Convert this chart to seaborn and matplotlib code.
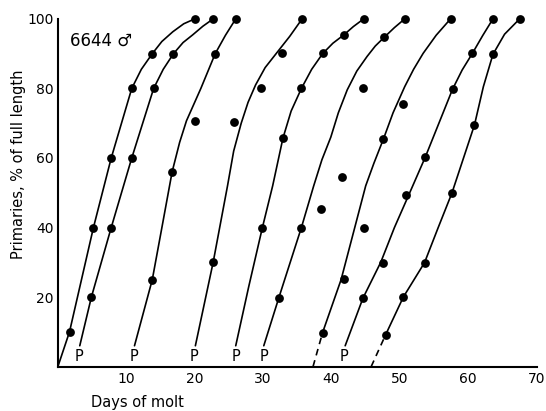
import pandas as pd
import matplotlib
matplotlib.use('Agg')
import matplotlib.pyplot as plt
import seaborn as sns

sns.set_style("white")
plt.rcParams['font.family'] = ['DejaVu Sans']
plt.rcParams['text.color'] = 'black'

dot_day = [1.7, 5.2, 7.8, 10.8, 13.8, 20.0,
           4.9, 7.8, 10.8, 14.0, 16.9, 22.7,
           13.8, 16.7, 20.0, 23.0, 26.0,
           22.7, 25.8, 29.7, 32.7, 35.7,
           29.9, 32.9, 35.6, 38.7, 41.8, 44.7,
           32.3, 35.6, 38.4, 47.7, 50.7,
           38.7, 41.8, 41.6, 44.6, 47.6, 50.5, 57.4,
           44.6, 44.7, 47.5, 50.9, 53.7, 57.7, 60.6, 63.6,
           47.9, 50.5, 53.6, 57.6, 60.9, 63.6, 67.5]
dot_pct = [10, 40, 60, 80, 90, 100,
           20, 40, 60, 80, 90, 100,
           25, 56, 70.7, 90, 100,
           30, 70.3, 80, 90.3, 100,
           40, 65.7, 80, 90.3, 95.4, 100,
           19.8, 40, 45.4, 94.7, 100,
           9.8, 25.1, 54.6, 80, 65.5, 75.5, 100,
           19.7, 39.8, 29.7, 49.4, 60.2, 79.8, 90.1, 100,
           9.1, 20, 29.9, 49.9, 69.5, 89.8, 100]

# hand-drawn growth curves, one list per primary
curve_a_x = [0, 1.7, 5.2, 7.8, 10.8, 12.2, 13.8, 15.2, 16.8, 18.4, 20.0]
curve_a_y = [0, 10, 40, 60, 80, 85.5, 90, 93.5, 96.3, 98.6, 100]
curve_b_x = [3.2, 4.9, 7.8, 10.8, 14.0, 15.4, 16.9, 18.3, 19.7, 21.2, 22.7]
curve_b_y = [6, 20, 40, 60, 80, 85.5, 90, 93.2, 95.4, 97.9, 100]
curve_c_x = [11.2, 13.8, 15.3, 16.7, 17.8, 18.8, 20.9, 23.0, 24.5, 26.0]
curve_c_y = [6, 25, 41, 56, 64.5, 70.7, 80, 90, 95.3, 100]
curve_d_x = [20.1, 22.7, 24.8, 25.7, 26.8, 27.8, 28.9, 30.3, 32.1, 33.9, 35.7]
curve_d_y = [6, 30, 52, 62, 70, 76, 81, 86, 90.5, 95, 100]
curve_e_x = [26.0, 27.9, 29.9, 31.4, 32.9, 34.1, 35.6, 37.1, 38.7, 40.2, 41.8, 43.2, 44.7]
curve_e_y = [6, 23, 40, 52, 65.7, 73.5, 80, 85.5, 90, 93, 95.4, 97.8, 100]
curve_f_x = [30.1, 32.3, 35.6, 37.4, 38.6, 39.9, 41.0, 42.3, 43.7, 45.2, 46.4, 47.7, 49.2, 50.7]
curve_f_y = [6, 19.8, 40, 52, 59.5, 66, 73, 79.6, 85, 89.2, 92.2, 94.7, 97.5, 100]
curve_g_x = [38.7, 41.4, 43.2, 45.0, 46.2, 47.6, 49.0, 50.7, 52.0, 53.4, 55.3, 57.4]
curve_g_y = [9.8, 25, 38.5, 52, 58.5, 65.5, 73, 80.5, 85.5, 90.1, 95.3, 100]
curve_h_x = [42.0, 44.6, 47.2, 49.2, 51.3, 53.7, 55.7, 57.7, 59.1, 60.6, 62.1, 63.6]
curve_h_y = [6, 19.7, 30, 40, 49.4, 60.2, 70, 79.8, 85.3, 90.1, 95.2, 100]
curve_i_x = [47.9, 50.5, 53.6, 55.6, 57.6, 59.3, 60.9, 62.2, 63.6, 65.3, 67.5]
curve_i_y = [9.1, 20, 29.9, 40, 49.9, 60, 69.5, 80.5, 89.8, 95.6, 100]

# extrapolated (dashed) starts
dash_g_x = [37.3, 38.7]
dash_g_y = [0, 9.8]
dash_i_x = [45.8, 47.9]
dash_i_y = [0, 9.1]

# "P" marks on the baseline
p_day = [3.1, 11.1, 19.9, 26.0, 30.2, 41.8]
p_pct = [2.9, 2.9, 2.9, 2.9, 2.9, 2.9]

x_ticks = [10, 20, 30, 40, 50, 60, 70]
y_ticks = [20, 40, 60, 80, 100]

curves = {'a': (curve_a_x, curve_a_y), 'b': (curve_b_x, curve_b_y),
          'c': (curve_c_x, curve_c_y), 'd': (curve_d_x, curve_d_y),
          'e': (curve_e_x, curve_e_y), 'f': (curve_f_x, curve_f_y),
          'g': (curve_g_x, curve_g_y), 'h': (curve_h_x, curve_h_y),
          'i': (curve_i_x, curve_i_y)}
rows = []
for name, (xs, ys) in curves.items():
    for x, y in zip(xs, ys):
        rows.append({'curve': name, 'day': x, 'pct': y})
lines_df = pd.DataFrame(rows)

dash_rows = []
for name, (xs, ys) in {'g': (dash_g_x, dash_g_y), 'i': (dash_i_x, dash_i_y)}.items():
    for x, y in zip(xs, ys):
        dash_rows.append({'curve': name, 'day': x, 'pct': y})
dash_df = pd.DataFrame(dash_rows)

dots_df = pd.DataFrame({'day': dot_day, 'pct': dot_pct})

fig = plt.figure(figsize=(5.46, 4.11), dpi=100)
ax = fig.add_axes([0.106, 0.108, 0.877, 0.846])

sns.lineplot(data=lines_df, x='day', y='pct', units='curve', estimator=None,
             sort=False, color='black', lw=1.2, ax=ax)
n_solid = len(ax.lines)
sns.lineplot(data=dash_df, x='day', y='pct', units='curve', estimator=None,
             sort=False, color='black', lw=1.2, ax=ax)
for ln in ax.lines[n_solid:]:
    ln.set_dashes([4, 3])
for ln in ax.lines:
    ln.set_clip_on(False)
    ln.set_solid_joinstyle('round')
sns.scatterplot(data=dots_df, x='day', y='pct', color='black', s=40,
                edgecolor='black', linewidth=0, clip_on=False, zorder=5, ax=ax)

for x, y in zip(p_day, p_pct):
    ax.text(x, y, 'P', ha='center', va='center', fontsize=10.5, color='black')

ax.text(1.8, 93.6, '6644 \u2642', ha='left', va='center', fontsize=12, color='black')

ax.set_xlim(0, 70)
ax.set_ylim(0, 100)
ax.set_xticks(x_ticks)
ax.set_yticks(y_ticks)
ax.tick_params(axis='x', direction='in', length=7, width=1.3, pad=4,
               labelsize=10, colors='black')
ax.tick_params(axis='y', direction='in', length=9, width=1.3, pad=3,
               labelsize=10, colors='black')
for side in ['top', 'right']:
    ax.spines[side].set_visible(False)
for side in ['left', 'bottom']:
    ax.spines[side].set_color('black')
    ax.spines[side].set_linewidth(1.5)

ax.set_xlabel('Days of molt', fontsize=10.5, color='black')
ax.set_ylabel('Primaries, % of full length', fontsize=10.5, color='black')
ax.xaxis.set_label_coords(0.167, -0.081)
ax.yaxis.set_label_coords(-0.067, 0.583)

plt.savefig('out.png', dpi=100)
plt.close()
